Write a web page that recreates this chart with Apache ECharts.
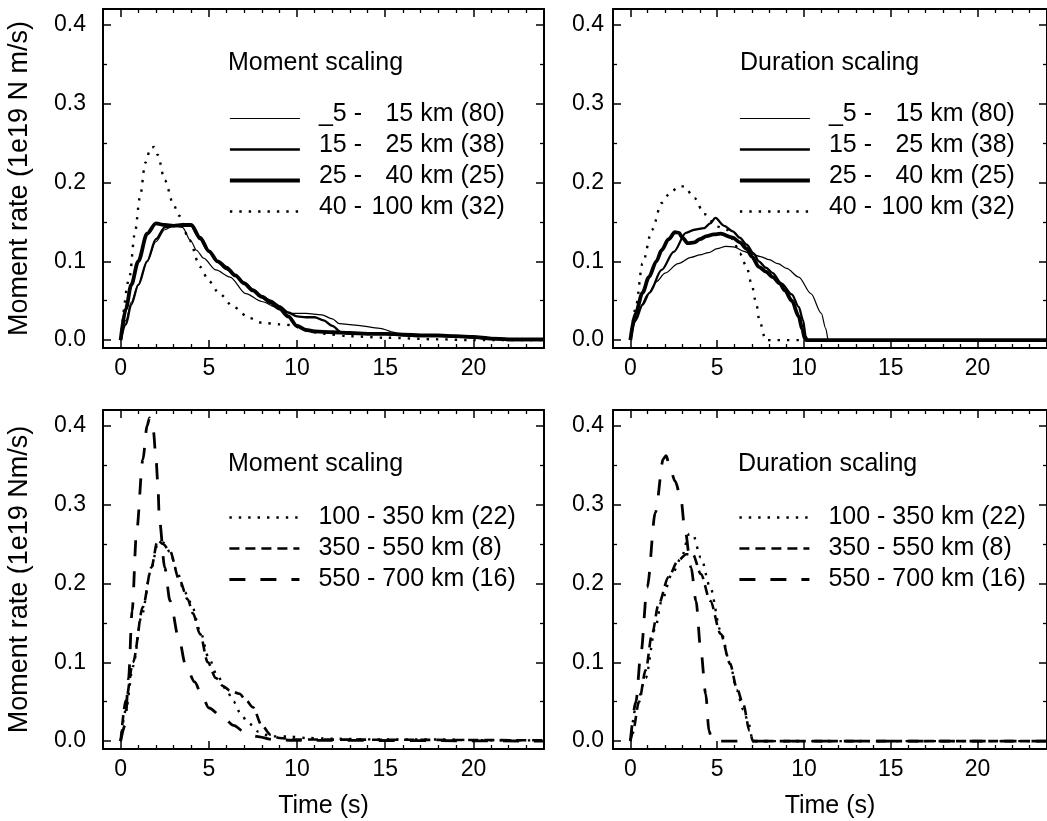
<!DOCTYPE html>
<html>
<head>
<meta charset="utf-8">
<script src="https://cdn.jsdelivr.net/npm/echarts@6/dist/echarts.min.js"></script>
<style>
html, body { margin: 0; padding: 0; background: #fff; }
#chart { width: 1047px; height: 821px; }
</style>
</head>
<body>
<div id="chart"></div>
<script>
// legend names
const shallowNames = ['_5 - 15 km (80)', '15 - 25 km (38)', '25 - 40 km (25)', '40 - 100 km (32)'];
const deepNames = ['100 - 350 km (22)', '350 - 550 km (8)', '550 - 700 km (16)'];
const panelTitles = ['Moment scaling', 'Duration scaling', 'Moment scaling', 'Duration scaling'];
const yTitles = ['Moment rate (1e19 N m/s)', 'Moment rate (1e19 Nm/s)'];

// [time (s), moment rate]
// top left: moment scaling, shallow
const momA = [[0,0],[0.3,0.025],[0.6,0.048],[1,0.07],[1.5,0.1],[2,0.125],[2.5,0.14],[3,0.145],[3.5,0.143],[4,0.125],[4.3,0.114],[4.7,0.104],[5.4,0.089],[6.2,0.08],[7.1,0.059],[8,0.049],[8.8,0.042],[9.7,0.034],[10.5,0.034],[11.4,0.032],[12,0.027],[12.4,0.021],[13.3,0.019],[14.7,0.015],[15.5,0.01],[16,0.006],[17,0.005],[18,0.005],[19,0.004],[20,0.003],[21,0.001],[22,0],[24,0]];
const momB = [[0,0],[0.3,0.02],[0.6,0.045],[1,0.07],[1.5,0.1],[2,0.128],[2.5,0.143],[3,0.145],[3.5,0.145],[4,0.145],[4.5,0.128],[5,0.112],[5.5,0.1],[6,0.09],[6.5,0.082],[7,0.073],[7.5,0.064],[8,0.055],[8.5,0.05],[9,0.043],[9.5,0.035],[10,0.03],[10.5,0.029],[11,0.029],[11.5,0.025],[12,0.018],[12.5,0.01],[13,0.008],[14,0.008],[15,0.008],[16,0.006],[17,0.005],[18,0.005],[19,0.005],[20,0.003],[21,0.002],[22,0],[24,0]];
const momC = [[0,0],[0.3,0.04],[0.6,0.07],[1,0.1],[1.5,0.135],[2,0.148],[2.5,0.146],[3,0.145],[3.5,0.146],[4,0.146],[4.5,0.13],[5,0.113],[5.5,0.1],[6,0.092],[6.5,0.082],[7,0.072],[7.5,0.063],[8,0.055],[8.5,0.048],[9,0.04],[9.5,0.03],[10,0.018],[10.5,0.013],[11,0.011],[12,0.01],[13,0.009],[14,0.008],[15,0.008],[16,0.007],[17,0.006],[18,0.006],[19,0.005],[20,0.004],[21,0.002],[22,0.001],[24,0.001]];
const momD = [[0,0],[0.5,0.08],[0.8,0.135],[1.1,0.182],[1.4,0.225],[1.7,0.244],[1.9,0.245],[2.1,0.235],[2.5,0.203],[3,0.172],[3.3,0.158],[3.9,0.127],[4.5,0.093],[5,0.075],[5.6,0.059],[6.4,0.042],[7.3,0.028],[8,0.022],[9,0.02],[9.7,0.019],[10.5,0.012],[11.5,0.008],[13,0.005],[15,0.003],[18,0.001],[20,0],[24,0]];

// top right: duration scaling, shallow
const durA = [[0,0],[0.2,0.02],[0.5,0.038],[1,0.058],[1.5,0.074],[2,0.085],[2.75,0.097],[3.5,0.105],[4,0.108],[4.5,0.111],[5,0.116],[5.5,0.119],[6,0.118],[6.5,0.113],[7,0.109],[7.5,0.106],[8,0.102],[8.5,0.097],[9,0.091],[9.7,0.08],[10.4,0.059],[11,0.034],[11.25,0.015],[11.4,0],[24,0]];
const durB = [[0,0],[0.3,0.025],[0.7,0.045],[1.1,0.06],[1.8,0.089],[2.5,0.112],[3.2,0.136],[3.7,0.14],[4.25,0.142],[4.6,0.148],[4.9,0.155],[5.4,0.145],[5.9,0.138],[6.3,0.13],[6.7,0.121],[7.1,0.11],[7.4,0.1],[7.8,0.092],[8.2,0.085],[8.7,0.072],[9.3,0.058],[9.7,0.042],[9.95,0.025],[10.1,0.005],[10.2,0],[24,0]];
const durC = [[0,0],[0.3,0.034],[0.7,0.06],[1.07,0.08],[1.5,0.1],[1.8,0.114],[2.2,0.128],[2.57,0.137],[2.8,0.136],[3,0.13],[3.3,0.123],[3.7,0.124],[4,0.128],[4.4,0.132],[4.8,0.134],[5.2,0.135],[5.9,0.13],[6.3,0.124],[6.7,0.116],[7,0.106],[7.4,0.093],[7.8,0.087],[8.2,0.08],[8.6,0.072],[8.9,0.063],[9.3,0.05],[9.7,0.03],[9.9,0.014],[10.05,0.002],[10.15,0],[24,0]];
const durD = [[0,0],[0.3,0.04],[0.7,0.097],[1.25,0.14],[1.8,0.174],[2.3,0.187],[2.8,0.195],[3.1,0.195],[3.7,0.18],[4.25,0.16],[5,0.144],[5.56,0.14],[5.9,0.128],[6.3,0.11],[6.7,0.093],[6.97,0.072],[7.25,0.047],[7.43,0.025],[7.8,0],[10,0]];

// bottom left: moment scaling, deep
const bmA = [[0,0],[0.3,0.04],[0.7,0.095],[1.2,0.16],[1.7,0.215],[2.1,0.25],[2.4,0.252],[2.8,0.24],[3.2,0.215],[3.6,0.19],[4,0.175],[4.5,0.14],[5,0.105],[5.5,0.082],[6,0.065],[6.4,0.05],[6.8,0.035],[7.2,0.024],[7.8,0.012],[8.5,0.006],[9.5,0.006],[10.5,0.004],[12,0.003],[15,0.002],[18,0.002],[21,0.001],[24,0.001]];
const bmB = [[0,0],[0.3,0.052],[0.7,0.1],[1.26,0.17],[1.74,0.22],[2.1,0.255],[2.4,0.25],[2.77,0.242],[3.34,0.204],[3.8,0.18],[4.1,0.162],[4.5,0.136],[4.94,0.1],[5.4,0.08],[5.8,0.07],[6.2,0.064],[6.74,0.06],[7.1,0.052],[7.5,0.043],[8,0.02],[8.5,0.008],[9,0.004],[10,0.002],[24,0.001]];
const bmC = [[0,0],[0.25,0.02],[0.45,0.08],[0.65,0.165],[0.9,0.265],[1.26,0.357],[1.5,0.4],[1.64,0.41],[1.85,0.395],[2,0.36],[2.1,0.33],[2.2,0.28],[2.5,0.22],[2.8,0.178],[3.3,0.13],[3.7,0.095],[4.2,0.075],[4.6,0.058],[5,0.042],[5.8,0.03],[6.4,0.02],[7,0.012],[7.7,0.006],[8.6,0.002],[10,0.001],[24,0]];

// bottom right: duration scaling, deep
const bdA = [[0,0],[0.32,0.043],[0.88,0.08],[1.44,0.144],[1.8,0.178],[2.4,0.212],[2.94,0.233],[3.4,0.263],[3.6,0.262],[4.06,0.233],[4.6,0.195],[5.2,0.14],[5.75,0.098],[6.12,0.065],[6.5,0.04],[6.78,0.025],[7.06,0],[24,0]];
const bdB = [[0,0],[0.13,0.01],[0.5,0.05],[0.88,0.09],[1.25,0.136],[1.63,0.174],[2.2,0.208],[2.75,0.229],[3.22,0.237],[3.6,0.237],[4.06,0.212],[4.6,0.178],[5.2,0.136],[5.75,0.098],[6.12,0.068],[6.5,0.047],[6.87,0.013],[7.06,0],[24,0]];
const bdC = [[0,0],[0.32,0.05],[0.6,0.11],[0.97,0.195],[1.44,0.29],[1.9,0.358],[2.06,0.362],[2.3,0.345],[2.57,0.33],[2.9,0.31],[3.13,0.27],[3.5,0.22],[3.78,0.178],[4.06,0.115],[4.34,0.06],[4.53,0.013],[4.7,0.002],[4.9,0],[24,0]];

const FONT = 'Liberation Sans';

// line looks, one per legend entry
const shallowStyles = [
  { width: 1.2, type: 'solid' },
  { width: 2.3, type: 'solid' },
  { width: 3.8, type: 'solid' },
  { width: 2.4, type: [2.4, 7] }
];
const deepStyles = [
  { width: 2.4, type: [2.4, 7] },
  { width: 2.6, type: [10, 6] },
  { width: 2.8, type: [16, 15] }
];

const grids = [
  { left: 103, top: 9, width: 441, height: 339 },
  { left: 613, top: 9, width: 446, height: 339 },
  { left: 103, top: 410, width: 441, height: 339 },
  { left: 613, top: 410, width: 446, height: 339 }
];

function makeX(g, pos) {
  const bottom = pos === 'bottom';
  return {
    type: 'value', gridIndex: g, position: pos, min: -1, max: 24,
    axisLine: { onZero: false, lineStyle: { color: '#000', width: 2 } },
    axisTick: { show: true, inside: true, length: 8, lineStyle: { color: '#000', width: 1.5 } },
    minorTick: { show: true, splitNumber: 5, length: 4, lineStyle: { color: '#000', width: 1.3 } },
    splitLine: { show: false },
    axisLabel: { show: bottom, showMinLabel: false, showMaxLabel: false, fontFamily: FONT, fontSize: 23, color: '#000', margin: 9 },
    name: bottom && g >= 2 ? 'Time (s)' : '',
    nameLocation: 'middle', nameGap: 45,
    nameTextStyle: { fontFamily: FONT, fontSize: 25, color: '#000' }
  };
}

function makeY(g, pos) {
  const left = pos === 'left';
  const leftCol = g % 2 === 0;
  return {
    type: 'value', gridIndex: g, position: pos, min: -0.01, max: 0.42,
    axisLine: { onZero: false, lineStyle: { color: '#000', width: 2 } },
    axisTick: { show: true, inside: true, length: 8, lineStyle: { color: '#000', width: 1.5 } },
    minorTick: { show: true, splitNumber: 2, length: 4, lineStyle: { color: '#000', width: 1.3 } },
    splitLine: { show: false },
    axisLabel: {
      show: left, showMinLabel: false, showMaxLabel: false,
      formatter: v => v.toFixed(1),
      fontFamily: FONT, fontSize: 23, color: '#000', margin: leftCol ? 17 : 9
    },
    name: left && leftCol ? yTitles[g < 2 ? 0 : 1] : '',
    nameLocation: 'middle', nameGap: 70,
    nameTextStyle: { fontFamily: FONT, fontSize: 27, color: '#000' }
  };
}

const xAxes = [], yAxes = [];
for (let g = 0; g < 4; g++) {
  xAxes.push(makeX(g, 'bottom'), makeX(g, 'top'));
  yAxes.push(makeY(g, 'left'), makeY(g, 'right'));
}

function line(name, data, g, st) {
  return {
    name, type: 'line', data,
    xAxisIndex: 2 * g, yAxisIndex: 2 * g,
    symbol: 'none', showSymbol: false,
    smooth: 0.3, smoothMonotone: 'x',
    lineStyle: { color: '#000', width: st.width, type: st.type },
    itemStyle: { color: '#000' },
    emphasis: { disabled: true }
  };
}

const panelData = [
  [momA, momB, momC, momD],
  [durA, durB, durC, durD],
  [bmA, bmB, bmC],
  [bdA, bdB, bdC]
];

const series = [];
panelData.forEach((list, g) => {
  const names = g < 2 ? shallowNames : deepNames;
  const styles = g < 2 ? shallowStyles : deepStyles;
  list.forEach((d, i) => series.push(line(names[i], d, g, styles[i])));
});

const titlePos = [[228, 51], [740, 51], [228, 452], [738, 452]];
const titles = panelTitles.map((t, i) => ({
  text: t, left: titlePos[i][0], top: titlePos[i][1], padding: 0,
  textStyle: { fontFamily: FONT, fontSize: 25, fontWeight: 'normal', color: '#000' }
}));

// sample line sits a little below the text middle, as in the figure
const legendPos = [[228, 102], [738, 102], [228, 505], [738, 505]];
const legends = legendPos.map((p, i) => {
  const top = i < 2;
  const names = top ? shallowNames : deepNames;
  const styles = top ? shallowStyles : deepStyles;
  const lg = {
    data: names.map((n, k) => ({
      name: n,
      lineStyle: { color: '#000', width: styles[k].width, type: styles[k].type },
      itemStyle: { color: 'rgba(0,0,0,0)', borderColor: 'rgba(0,0,0,0)', borderWidth: 0 }
    })),
    orient: 'vertical', left: p[0], top: p[1], padding: 0,
    itemWidth: 70, itemHeight: 25, itemGap: top ? 2 : 6,
    selectedMode: false,
    itemStyle: { color: 'rgba(0,0,0,0)', borderColor: 'rgba(0,0,0,0)', borderWidth: 0 },
    textStyle: { fontFamily: FONT, fontSize: 25, color: '#000', lineHeight: 17, padding: [0, 0, 8, 14] }
  };
  if (top) {
    lg.formatter = name => {
      const parts = name.split(' - ');
      return '{a|' + parts[0] + ' -}{b|' + parts[1] + '}';
    };
    lg.textStyle.rich = {
      a: { fontFamily: FONT, fontSize: 25, color: '#000', lineHeight: 17, width: 43 },
      b: { fontFamily: FONT, fontSize: 25, color: '#000', lineHeight: 17, width: 143, align: 'right' }
    };
  }
  return lg;
});

const chart = echarts.init(document.getElementById('chart'));
chart.setOption({
  animation: false,
  backgroundColor: '#fff',
  title: titles,
  legend: legends,
  grid: grids,
  xAxis: xAxes,
  yAxis: yAxes,
  series
});
</script>
</body>
</html>
